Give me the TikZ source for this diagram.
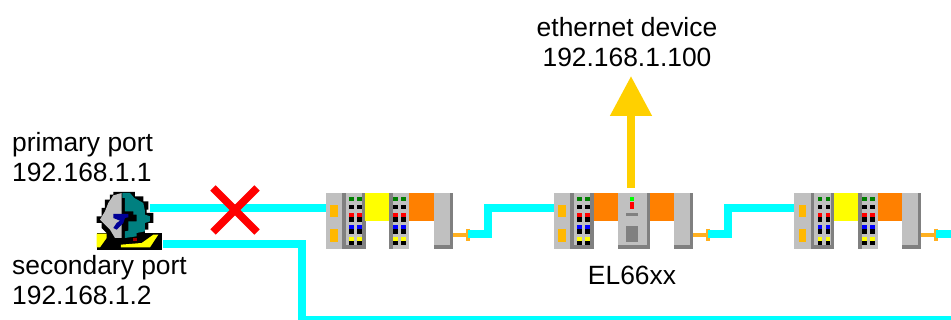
\documentclass[tikz,border=0pt]{standalone}
\usepackage{fontspec}
\setmainfont{Liberation Sans}
\usepackage{xcolor}
\usetikzlibrary{arrows.meta,calc,positioning}
\definecolor{buscyan}{RGB}{0,255,255}
\definecolor{panelgray}{RGB}{192,192,192}
\definecolor{stripgray}{RGB}{128,128,128}
\definecolor{padorange}{RGB}{255,184,0}
\definecolor{termorange}{RGB}{255,128,0}
\definecolor{termyellow}{RGB}{255,255,0}
\definecolor{arrowyellow}{RGB}{255,208,0}
\definecolor{stuborange}{RGB}{255,176,32}
\definecolor{ledgreen}{RGB}{0,128,0}
\definecolor{iconteal}{RGB}{0,128,128}
\definecolor{iconblue}{RGB}{0,0,150}

% one column pair of leds: x, y, colour
\newcommand{\ledpair}[3]{
	\fill[#3] (#1,#2) rectangle ++(4.5,4.2);
	\fill[#3] (#1+8,#2) rectangle ++(4.5,4.2);
}
% led terminal: x, width
\newcommand{\ledterm}[2]{
	\fill[panelgray] (#1,193) rectangle ++(#2,56);
	\fill[stripgray] (#1,193) rectangle ++(3.5,56);
	\pgfmathsetmacro{\ledx}{#1+#2-16}
	\ledpair{\ledx}{197}{ledgreen}
	\ledpair{\ledx}{205}{black}
	\ledpair{\ledx}{213.5}{red}
	\ledpair{\ledx}{217.5}{black}
	\ledpair{\ledx}{225}{blue}
	\ledpair{\ledx}{229.5}{black}
	\ledpair{\ledx}{237}{termyellow}
	\ledpair{\ledx}{241}{black}
}
% coupler with its first terminal: name, x
\newcommand{\buscoupler}[2]{
	\fill[panelgray] (#2,193) rectangle ++(17,56);
	\fill[padorange] (#2+4.5,205) rectangle ++(7.5,12);
	\fill[padorange] (#2+4.5,229) rectangle ++(7.5,13);
	\ledterm{#2+16.5}{23}
	\fill[stripgray] (#2+36.5,193) rectangle ++(3.5,56);
	\fill[stripgray] (#2+16.5,245) rectangle ++(23.5,4);
	\coordinate (#1in) at (#2,208);
}
% end terminal with stub: name, x
\newcommand{\capterm}[2]{
	\fill[panelgray] (#2,193) rectangle ++(19,56);
	\fill[stripgray] (#2+15.5,193) rectangle ++(3.5,56);
	\fill[stripgray] (#2,245) rectangle ++(19,4);
	\draw[stub] (#2+19,235) -- ++(19,0);
	\draw[stub] (#2+34,229) -- ++(0,12);
	\coordinate (#1out) at (#2+34,234);
}

\begin{document}
\begin{tikzpicture}[x=1pt,y=-1pt,
	bus/.style={draw=buscyan,line width=8pt},
	stub/.style={draw=stuborange,line width=3.6pt},
	lbl/.style={font=\fontsize{26.4}{30}\selectfont,inner sep=0pt,align=left}]
	\useasboundingbox (0,0) rectangle (951,320);

	% device icon
	\begin{scope}[shift={(95,188)},x=0.3333pt,y=-0.3333pt]
		\fill[black] (5,135) rectangle (200,185);
		\fill[black] (55,12)--(120,12)--(120,25)--(145,25)--(145,40)--(160,40)--(160,65)--(155,65)--(155,75)--(175,75)--(175,105)--(160,105)--(160,125)--(150,125)--(150,140)--(90,165)--(55,165)--(35,135)--(20,120)--(20,105)--(5,105)--(5,85)--(20,85)--(20,60)--(30,60)--(30,35)--(45,35)--(45,20)--(55,20)--cycle;
		\fill[panelgray] (55,22)--(80,15)--(80,150)--(60,150)--(45,125)--(25,105)--(15,95)--(30,70)--(40,45)--cycle;
		\fill[iconteal] (82,15)--(105,15)--(118,30)--(145,45)--(150,70)--(150,80)--(165,85)--(165,100)--(150,105)--(150,130)--(125,135)--(125,145)--(90,150)--(90,130)--(100,128)--(100,100)--(125,100)--(125,80)--(115,80)--(115,70)--(90,70)--(90,30)--(82,30)--cycle;
		\fill[iconblue] (55,78)--(100,78)--(100,88)--(90,90)--(85,105)--(65,125)--(55,120)--(65,105)--(75,98)--(55,90)--cycle;
		\fill[termyellow] (5,137)--(35,137)--(35,150)--(15,178)--(5,178)--cycle;
		\fill[termyellow] (78,170)--(140,165)--(175,140)--(190,140)--(165,178)--(78,178)--cycle;
		\fill[red!60!black] (113,151) rectangle (125,158);
	\end{scope}
	\coordinate (mport1) at (150,208);
	\coordinate (mport2) at (163,244);
	\coordinate (busdrop) at (302,320);
	\coordinate (busend) at (951,320);
	\coordinate (busexit) at (951,234);

	% first block
	\buscoupler{bk1}{325.5}
	\fill[termyellow] (365,193) rectangle ++(24,28);
	\ledterm{389}{20}
	\fill[termorange] (409,193) rectangle ++(25,28);
	\capterm{bk1}{434}

	% second block
	\buscoupler{bk2}{553.5}
	\fill[termorange] (594,193) rectangle ++(24,28);
	\fill[panelgray] (618,193) rectangle ++(32,56);
	\fill[stripgray] (646.5,193) rectangle ++(3.5,56);
	\fill[stripgray] (618,245) rectangle ++(32,4);
	\fill[green] (630,197) rectangle ++(3.5,4);
	\fill[red] (630,202) rectangle ++(3.5,7);
	\fill[stripgray] (626,213) rectangle ++(12,3.5);
	\fill[stripgray] (626,226) rectangle ++(12,16);
	\fill[termorange] (650,193) rectangle ++(24,28);
	\capterm{bk2}{674}

	% third block
	\buscoupler{bk3}{794}
	\fill[termyellow] (834,193) rectangle ++(24,28);
	\ledterm{858}{20}
	\fill[termorange] (878,193) rectangle ++(24,28);
	\capterm{bk3}{902}

	% bus
	\draw[bus] (mport1) -- (bk1in);
	\draw[bus] (bk1out) -- ++(20,0) |- (bk2in);
	\draw[bus] (bk2out) -- ++(20,0) |- (bk3in);
	\draw[bus] (bk3out) -- (busexit);
	\draw[bus] (mport2) -| (busdrop) -- (busend);

	% broken link
	\coordinate (xa) at (213,188);
	\coordinate (xb) at (257,232);
	\coordinate (xc) at (213,232);
	\coordinate (xd) at (257,188);
	\draw[red,line width=7.5pt] (xa) -- (xb);
	\draw[red,line width=7.5pt] (xc) -- (xd);

	% ethernet branch
	\coordinate (ecatout) at (631,188);
	\coordinate (ethdev) at (631,76);
	\draw[arrowyellow,line width=8pt,-{Triangle[length=40pt,width=40pt]}] (ecatout) -- (ethdev);

	\node[lbl,anchor=north west] (prim) at (12,132) {primary port\\192.168.1.1};
	\node[lbl,anchor=north west] (sec) at (12,255) {secondary port\\192.168.1.2};
	\node[lbl,align=center,anchor=north] (eth) at (627,17) {ethernet device\\192.168.1.100};
	\node[lbl,anchor=north] (elname) at (632,266) {EL66xx};
\end{tikzpicture}
\end{document}
